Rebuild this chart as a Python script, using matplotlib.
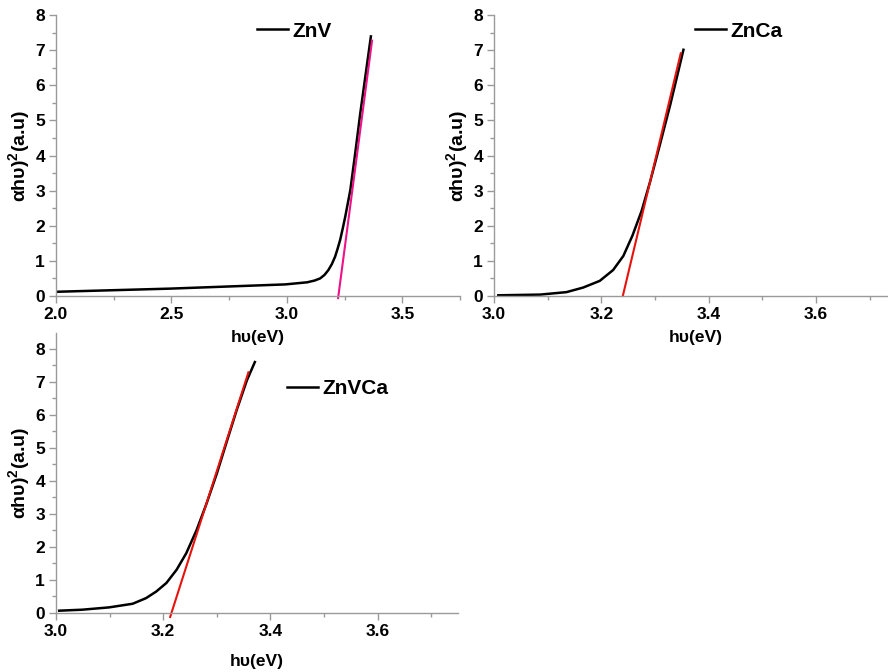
import matplotlib
matplotlib.use("Agg")
import matplotlib.pyplot as plt
from matplotlib.ticker import MultipleLocator, FormatStrFormatter

# ---------------- data ----------------
znv_x = [2.0, 2.494, 2.993, 3.088, 3.12, 3.144, 3.163, 3.180, 3.195, 3.209, 3.22, 3.231, 3.242, 3.253, 3.275, 3.296, 3.318, 3.340, 3.364]
znv_y = [0.12, 0.21, 0.33, 0.39, 0.44, 0.50, 0.60, 0.74, 0.91, 1.12, 1.35, 1.60, 1.92, 2.26, 3.02, 4.06, 5.20, 6.25, 7.39]
znv_fit_x = [3.222, 3.369]
znv_fit_y = [-0.06, 7.27]

znca_x = [3.008, 3.086, 3.135, 3.166, 3.197, 3.222, 3.241, 3.258, 3.275, 3.291, 3.309, 3.328, 3.340, 3.353]
znca_y = [0.02, 0.04, 0.11, 0.24, 0.43, 0.74, 1.14, 1.72, 2.42, 3.26, 4.30, 5.42, 6.18, 7.01]
znca_fit_x = [3.240, 3.348]
znca_fit_y = [0.0, 6.91]

znvca_x = [3.006, 3.049, 3.099, 3.143, 3.168, 3.187, 3.206, 3.225, 3.243, 3.262, 3.281, 3.300, 3.318, 3.337, 3.356, 3.371]
znvca_y = [0.07, 0.10, 0.17, 0.28, 0.45, 0.65, 0.91, 1.31, 1.81, 2.50, 3.32, 4.22, 5.16, 6.14, 7.04, 7.60]
znvca_fit_x = [3.213, 3.359]
znvca_fit_y = [-0.12, 7.29]

labels = ["ZnV", "ZnCa", "ZnVCa"]
x_label = "h\u03c5(eV)"
y_label = r"$\alpha$h$\upsilon$)$^{\mathbf{2}}$(a.u)"

plt.rcParams['font.family'] = ['Liberation Sans', 'DejaVu Sans']
plt.rcParams['font.weight'] = 'bold'
plt.rcParams['mathtext.fontset'] = 'custom'
plt.rcParams['mathtext.rm'] = 'Liberation Sans'
plt.rcParams['mathtext.it'] = 'Liberation Sans'
plt.rcParams['mathtext.bf'] = 'Liberation Sans:bold'

W, H = 888, 672
fig = plt.figure(figsize=(W / 100, H / 100), dpi=100)
fig.patch.set_facecolor('white')

def px_axes(l, r, t, b):
    return [l / W, 1 - b / H, (r - l) / W, (b - t) / H]

GRAY = '#9a9a9a'

def style(ax, xlim, ylim, xmaj, xmin, xlabel_pad):
    ax.set_xlim(*xlim)
    ax.set_ylim(*ylim)
    for s in ['top', 'right']:
        ax.spines[s].set_visible(False)
    for s in ['left', 'bottom']:
        ax.spines[s].set_color(GRAY)
        ax.spines[s].set_linewidth(1.0)
    ax.xaxis.set_major_locator(MultipleLocator(xmaj))
    ax.xaxis.set_minor_locator(MultipleLocator(xmin))
    ax.xaxis.set_major_formatter(FormatStrFormatter('%.1f'))
    ax.yaxis.set_major_locator(MultipleLocator(1))
    ax.yaxis.set_minor_locator(MultipleLocator(0.5))
    ax.tick_params(which='major', length=5, width=1, color=GRAY, direction='out',
                   labelsize=12.5, pad=3)
    ax.tick_params(which='minor', length=3, width=1, color=GRAY, direction='out')
    ax.set_xlabel(x_label, fontsize=12.5, fontweight='bold', labelpad=xlabel_pad)
    ax.set_ylabel(y_label, fontsize=14, fontweight='bold', labelpad=2)
    ax.set_facecolor('none')

def add_legend(ax, line, label, anchor):
    ax.legend([line], [label], loc='center left', bbox_to_anchor=anchor, frameon=False,
              borderpad=0, borderaxespad=0, handletextpad=0.2, handlelength=1.5,
              prop={'size': 15, 'weight': 'bold'})

# Panel 1
ax1 = fig.add_axes(px_axes(56, 460, 15, 296))
l1, = ax1.plot(znv_x, znv_y, color='black', lw=1.8, solid_joinstyle='round')
ax1.plot(znv_fit_x, znv_fit_y, color='#ee1188', lw=1.5, clip_on=False)
style(ax1, (2.0, 3.75), (0, 8), 0.5, 0.25, 6)
add_legend(ax1, l1, labels[0], (0.4975, 0.943))

# Panel 2
ax2 = fig.add_axes(px_axes(494, 896.5, 15, 296))
l2, = ax2.plot(znca_x, znca_y, color='black', lw=1.8, solid_joinstyle='round')
ax2.plot(znca_fit_x, znca_fit_y, color='#e8120c', lw=1.5, clip_on=False)
style(ax2, (3.0, 3.75), (0, 8), 0.2, 0.1, 6)
add_legend(ax2, l2, labels[1], (0.4994, 0.943))

# Panel 3
ax3 = fig.add_axes(px_axes(56, 458, 333, 613))
l3, = ax3.plot(znvca_x, znvca_y, color='black', lw=1.8, solid_joinstyle='round')
ax3.plot(znvca_fit_x, znvca_fit_y, color='#e8120c', lw=1.5, clip_on=False)
style(ax3, (3.0, 3.75), (0, 8.48), 0.2, 0.1, 11)
add_legend(ax3, l3, labels[2], (0.5746, 0.8))

fig.savefig('out.png', dpi=100, facecolor='white')
